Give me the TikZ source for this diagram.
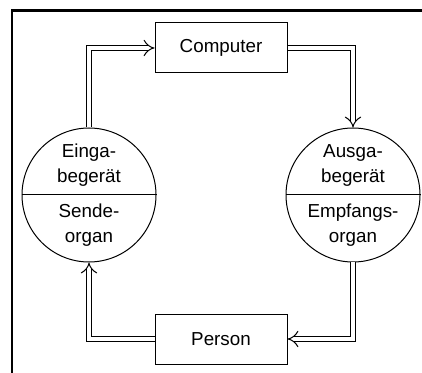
\documentclass[tikz,border=0pt]{standalone}
\usepackage{fontspec}
\setmainfont{Liberation Sans}
\usepackage{tikz}
\usetikzlibrary{positioning,arrows.meta}
\tikzset{
  box/.style  ={draw, rectangle, line width=0.5pt, minimum width=66pt, minimum height=25pt, inner sep=0pt},
  dev/.style  ={draw, circle, line width=0.5pt, minimum size=67pt, inner sep=0pt},
  txt/.style  ={align=center, inner sep=0pt},
  flow/.style ={double, line width=0.5pt, double distance=2.4pt, -{Implies}},
}

\begin{document}
\begin{tikzpicture}[x=0.5pt, y=-0.5pt, font=\fontsize{9.4}{12.5}\selectfont]
  \useasboundingbox (0,0) rectangle (422,373);
  % frame, open to the right and below
  \draw[line width=1.25pt] (12,373) |- (422,10.5);

  \node[box] (comp) at (221,48)  {Computer};
  \node[box] (pers) at (221,339) {Person};
  \node[dev] (ein)  at (89,195)  {};
  \node[dev] (aus)  at (353,195) {};

  % split lines and labels of both devices
  \draw[line width=0.5pt] (ein.west) -- (ein.east);
  \draw[line width=0.5pt] (aus.west) -- (aus.east);
  \node[txt, above=4pt of ein.center] (einA) {Einga-\\begerät};
  \node[txt, below=4pt of ein.center] (einB) {Sende-\\organ};
  \node[txt, above=4pt of aus.center] (ausA) {Ausga-\\begerät};
  \node[txt, below=4pt of aus.center] (ausB) {Empfangs-\\organ};

  \draw[flow] (ein.north) |- (comp.west);
  \draw[flow] (comp.east) -| (aus.north);
  \draw[flow] (aus.south) |- (pers.east);
  \draw[flow] (pers.west) -| (ein.south);
\end{tikzpicture}
\end{document}
